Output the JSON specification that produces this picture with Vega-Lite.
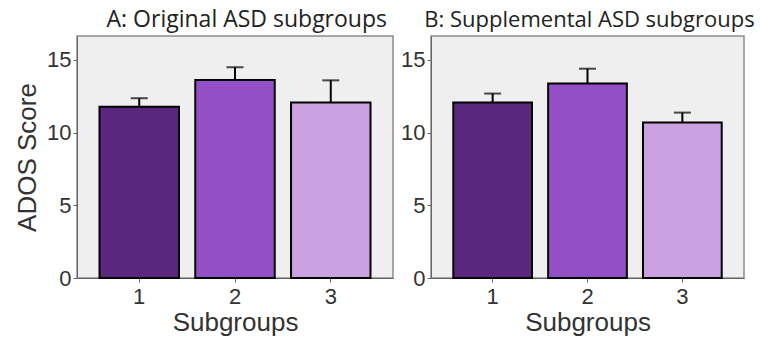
{
  "$schema": "https://vega.github.io/schema/vega-lite/v6.json",
  "padding": {"left": 13, "top": 8, "right": 0, "bottom": 0},
  "background": "white",
  "datasets": {
    "orig": [
      {"group": "1", "mean": 11.79, "upper": 12.37},
      {"group": "2", "mean": 13.63, "upper": 14.5},
      {"group": "3", "mean": 12.07, "upper": 13.6}
    ],
    "supp": [
      {"group": "1", "mean": 12.07, "upper": 12.69},
      {"group": "2", "mean": 13.38, "upper": 14.4},
      {"group": "3", "mean": 10.7, "upper": 11.38}
    ]
  },
  "spacing": 5,
  "hconcat": [
    {
      "width": 316,
      "height": 242,
      "data": {"name": "orig"},
      "title": {"text": "A: Original ASD subgroups", "anchor": "end", "dx": -6},
      "encoding": {
        "x": {"field": "group", "type": "nominal", "title": "Subgroups",
              "scale": {"paddingInner": 0.17, "paddingOuter": 0.235}},
        "y": {"field": "mean", "type": "quantitative", "title": "ADOS Score",
              "scale": {"domain": [0, 16.65], "nice": false},
              "axis": {"values": [0, 5, 10, 15]}}
      },
      "layer": [
        {"mark": {"type": "bar", "stroke": "black", "strokeWidth": 2},
         "encoding": {"color": {"field": "group", "type": "nominal", "legend": null,
           "scale": {"domain": ["1", "2", "3"], "range": ["#5a277e", "#9350c6", "#c9a0e0"]}}}},
        {"mark": {"type": "rule", "color": "black", "strokeWidth": 2},
         "encoding": {"y2": {"field": "upper"}}},
        {"mark": {"type": "tick", "color": "black", "thickness": 2, "size": 17},
         "encoding": {"y": {"field": "upper", "type": "quantitative"}}}
      ]
    },
    {
      "width": 313,
      "height": 242,
      "data": {"name": "supp"},
      "title": {"text": "B: Supplemental ASD subgroups", "anchor": "middle", "dx": 2, "fontSize": 22},
      "encoding": {
        "x": {"field": "group", "type": "nominal", "title": "Subgroups",
              "scale": {"paddingInner": 0.17, "paddingOuter": 0.235}},
        "y": {"field": "mean", "type": "quantitative", "title": null,
              "scale": {"domain": [0, 16.65], "nice": false},
              "axis": {"values": [0, 5, 10, 15]}}
      },
      "layer": [
        {"mark": {"type": "bar", "stroke": "black", "strokeWidth": 2},
         "encoding": {"color": {"field": "group", "type": "nominal", "legend": null,
           "scale": {"domain": ["1", "2", "3"], "range": ["#5a277e", "#9350c6", "#c9a0e0"]}}}},
        {"mark": {"type": "rule", "color": "black", "strokeWidth": 2},
         "encoding": {"y2": {"field": "upper"}}},
        {"mark": {"type": "tick", "color": "black", "thickness": 2, "size": 17},
         "encoding": {"y": {"field": "upper", "type": "quantitative"}}}
      ]
    }
  ],
  "config": {
    "view": {"fill": "#efefef", "stroke": "#8c8c8c", "strokeWidth": 1.5},
    "title": {"font": "Open Sans", "fontSize": 23, "fontWeight": "normal", "color": "#222", "offset": 4},
    "axis": {
      "grid": false,
      "labelFont": "Liberation Sans", "labelFontSize": 22, "labelColor": "#333",
      "titleFont": "Liberation Sans", "titleFontSize": 26, "titleFontWeight": "normal", "titleColor": "#333",
      "domainColor": "#666", "tickColor": "#666", "tickSize": 4, "labelPadding": 2
    },
    "axisX": {"labelAngle": 0, "titlePadding": 2, "labelPadding": 4},
    "axisY": {"titlePadding": 6}
  }
}
